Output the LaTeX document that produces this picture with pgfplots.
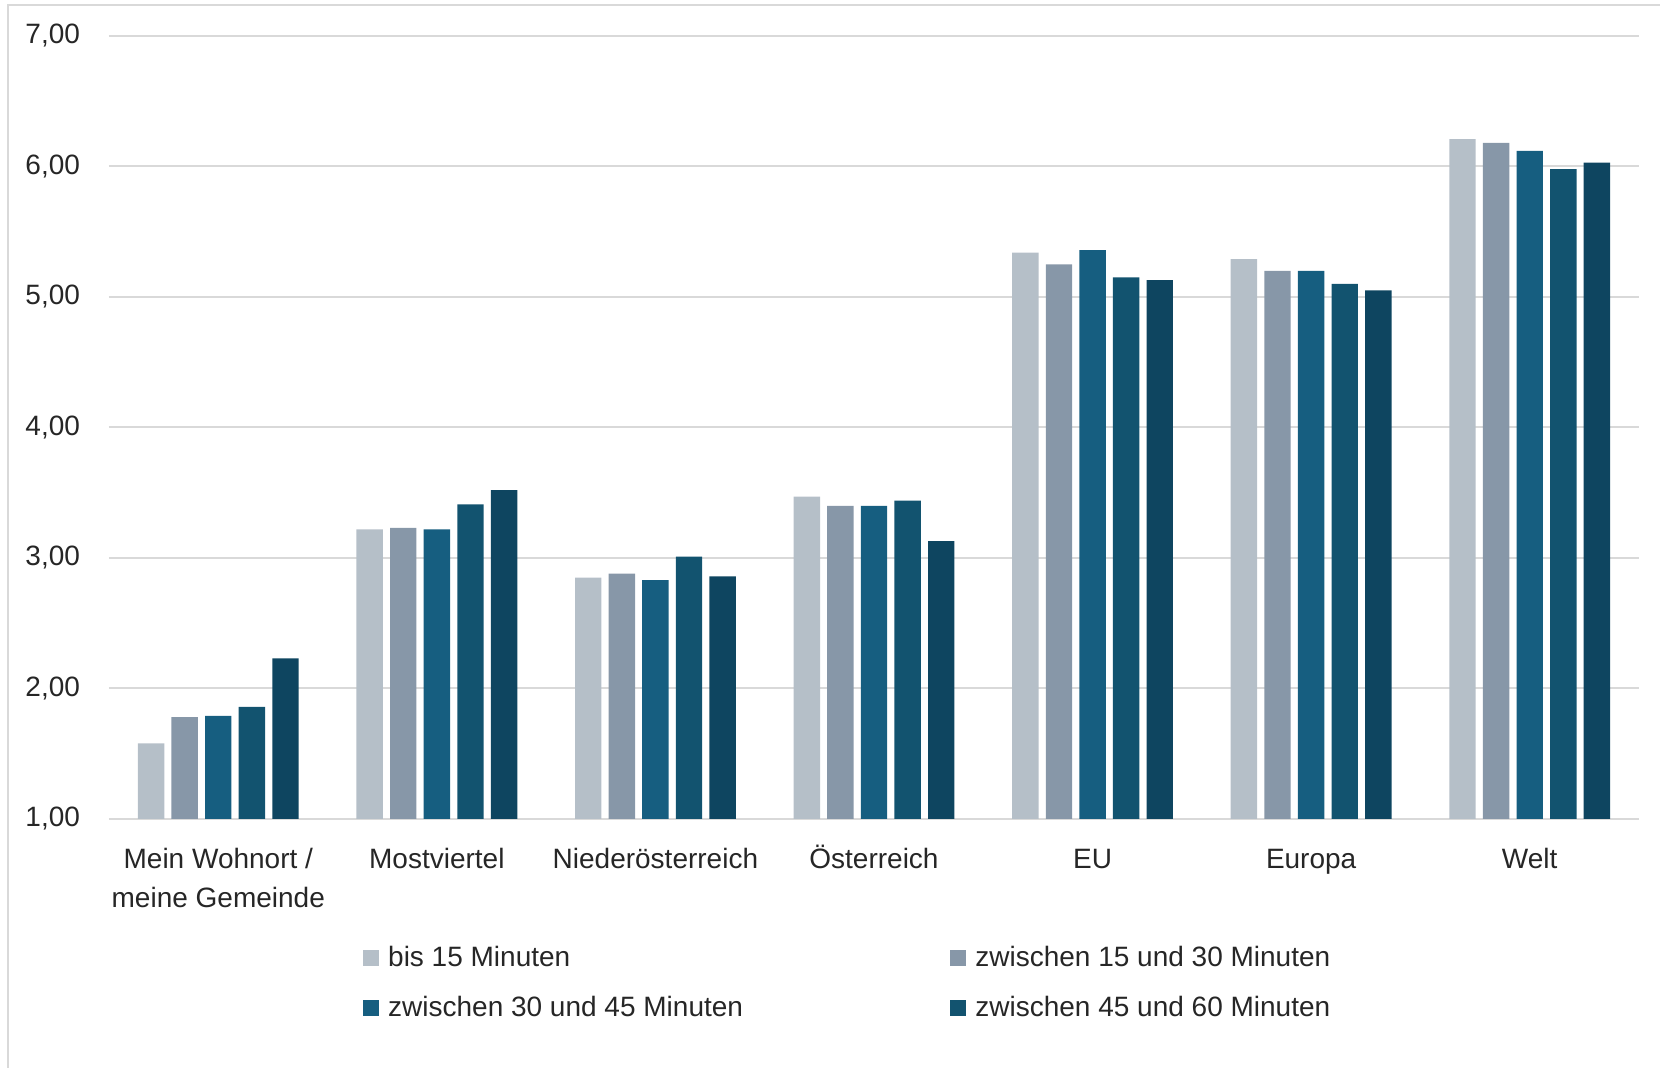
\documentclass[border=0pt]{standalone}
\usepackage{fontspec}
\setmainfont{Liberation Sans}
\usepackage{pgfplots}
\usepackage{pgfplotstable}
\pgfplotsset{compat=1.18}
\definecolor{cA}{HTML}{B5BFC8}
\definecolor{cB}{HTML}{8797A8}
\definecolor{cC}{HTML}{165E80}
\definecolor{cD}{HTML}{12536F}
\definecolor{cE}{HTML}{0E4560}
\definecolor{gridc}{HTML}{D9D9D9}
\definecolor{framec}{HTML}{D9D9D9}

\pgfplotstableread{
x y
0 1.58
1 3.22
2 2.85
3 3.47
4 5.34
5 5.29
6 6.21
}\sA
\pgfplotstableread{
x y
0 1.78
1 3.23
2 2.88
3 3.40
4 5.25
5 5.20
6 6.18
}\sB
\pgfplotstableread{
x y
0 1.79
1 3.22
2 2.83
3 3.40
4 5.36
5 5.20
6 6.12
}\sC
\pgfplotstableread{
x y
0 1.86
1 3.41
2 3.01
3 3.44
4 5.15
5 5.10
6 5.98
}\sD
\pgfplotstableread{
x y
0 2.23
1 3.52
2 2.86
3 3.13
4 5.13
5 5.05
6 6.03
}\sE

\begin{document}
\begin{tikzpicture}[x=1pt,y=1pt]
\path[use as bounding box] (0,0) rectangle (830,534);
\draw[framec, line width=1pt] (4,0) -- (4,531.25) -- (830,531.25);
\begin{axis}[
  at={(54.5pt,124.5pt)}, anchor=south west,
  scale only axis, width=765pt, height=391.5pt,
  xmin=-0.5, xmax=6.5, ymin=1, ymax=7,
  ybar=3.6pt, bar width=13.2pt,
  axis line style={draw=none},
  tick style={draw=none},
  ymajorgrids, grid style={gridc, line width=1pt},
  ytick={1,2,3,4,5,6,7},
  xtick={0,1,2,3,4,5,6},
  xticklabels={{\vphantom{Ö}Mein Wohnort /\\meine Gemeinde},\vphantom{Ö}Mostviertel,\vphantom{Ö}Niederösterreich,\vphantom{Ö}Österreich,\vphantom{Ö}EU,\vphantom{Ö}Europa,\vphantom{Ö}Welt},
  tick label style={font=\fontsize{14}{19.6}\selectfont, text=black!85},
  x tick label style={align=center, yshift=-5.1pt},
  y tick label style={xshift=-11pt},
  yticklabel style={/pgf/number format/.cd, fixed, fixed zerofill, precision=2, use comma, assume math mode=true},
  legend columns=2,
  legend style={draw=none, fill=none, inner sep=0pt, outer sep=0pt,
    at={(axis description cs:0.166,-0.157)}, anchor=north west,
    font=\fontsize{14}{16}\selectfont, text=black!85,
    row sep=9.5pt, column sep=0pt,
    /tikz/every odd column/.style={column sep=2.6pt},
    /tikz/every even column/.style={column sep=0pt}},
  legend cell align=left,
  legend image code/.code={\path[#1] (0pt,-4pt) rectangle (8pt,4pt);},
]
\addplot[fill=cA, draw=none] table[x=x,y=y] {\sA};
\addlegendentry{\makebox[279pt][l]{bis 15 Minuten}}
\addplot[fill=cB, draw=none] table[x=x,y=y] {\sB};
\addlegendentry{zwischen 15 und 30 Minuten}
\addplot[fill=cC, draw=none] table[x=x,y=y] {\sC};
\addlegendentry{\makebox[279pt][l]{zwischen 30 und 45 Minuten}}
\addplot[fill=cD, draw=none] table[x=x,y=y] {\sD};
\addlegendentry{zwischen 45 und 60 Minuten}
\addplot[fill=cE, draw=none] table[x=x,y=y] {\sE};
\end{axis}
\end{tikzpicture}
\end{document}
